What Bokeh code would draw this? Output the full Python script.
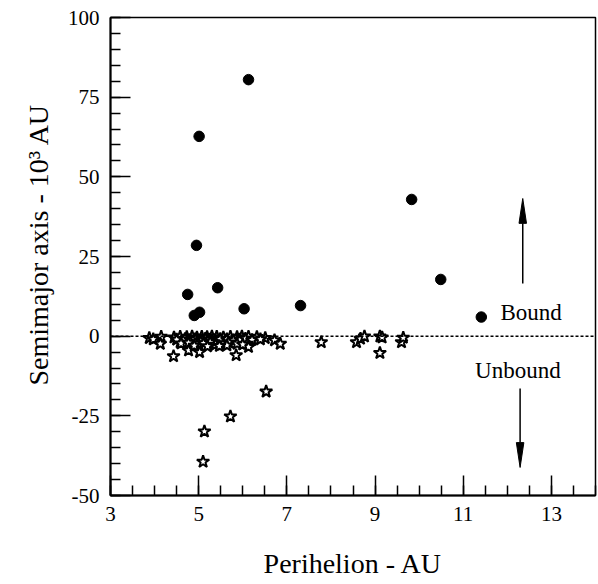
from bokeh.plotting import figure
from bokeh.models import FixedTicker, Span, Label, Title
from bokeh.embed import file_html
from bokeh.resources import INLINE

# ---- data ----
bound_q = [6.13, 5.01, 4.95, 5.43, 4.75, 6.03, 4.90, 5.02, 7.31, 9.83, 10.49, 11.41]
bound_a = [80.5, 62.7, 28.5, 15.2, 13.1, 8.6, 6.5, 7.5, 9.6, 42.9, 17.8, 6.0]

unbound_q = [6.53, 5.72, 5.13, 5.10,
             3.88, 3.97, 4.15, 4.13, 4.44, 4.43, 4.58, 4.77, 5.02, 5.85,
             4.58, 4.73, 4.85, 4.96, 5.07, 5.19, 5.30, 5.41, 5.56, 5.72, 5.87, 5.98, 6.13, 6.32, 6.51,
             4.50, 4.69, 4.81, 4.92, 5.03, 5.15, 5.26, 5.38, 5.49, 5.64, 5.79, 5.94, 6.06, 6.21, 6.40,
             4.60, 4.77, 5.00, 5.11, 5.34, 5.56, 5.68, 5.87, 6.10,
             5.26, 5.38, 5.64, 6.13, 4.90, 5.20, 5.47, 6.00,
             6.72, 6.85, 7.78, 8.58, 8.67, 8.76, 9.11, 9.16, 9.11, 9.60, 9.64]
unbound_a = [-17.4, -25.2, -29.9, -39.4,
             -0.6, -1.0, -0.2, -2.4, -0.4, -6.3, -1.9, -4.5, -5.0, -6.0,
             -0.2, -0.3, -0.1, -0.4, -0.2, -0.3, -0.1, -0.2, -0.4, -0.2, -0.3, -0.1, -0.2, -0.3, -0.6,
             -1.1, -0.9, -1.2, -1.0, -1.3, -0.8, -1.1, -1.2, -0.9, -1.0, -1.3, -1.1, -0.8, -1.2, -1.0,
             -2.3, -2.1, -2.4, -2.2, -2.5, -2.3, -2.0, -2.4, -2.4,
             -1.9, -2.7, -2.9, -3.4, -3.0, -3.2, -3.1, -2.6,
             -1.3, -2.4, -1.9, -1.9, -0.8, -0.1, -0.1, -0.4, -5.3, -1.9, -0.5]

x_major = [3, 5, 7, 9, 11, 13]
x_minor = [3 + 0.5 * i for i in range(23)]
y_major = [-50, -25, 0, 25, 50, 75, 100]
y_minor = list(range(-50, 101, 5))
y_labels = {-50: "-50", -25: "-25", 0: "0", 25: "25", 50: "50", 75: "75", 100: "100"}

x_title = "Perihelion - AU"
y_title = "Semimajor axis - 10\u00b3 AU"

# annotation arrows (data coordinates): x, start, tip
arrow_up = dict(x=12.35, y0=16.5, y1=43.2)
arrow_down = dict(x=12.29, y0=-16.4, y1=-41.2)
head_len = 7.8     # in y data units
head_half = 0.085  # in x data units
bound_label = dict(x=12.54, y=7.4, text="Bound")
unbound_label = dict(x=12.24, y=-10.8, text="Unbound")

FONT = "'Liberation Serif', 'Times New Roman', serif"

p = figure(width=598, height=584, x_range=(3, 14), y_range=(-50, 100),
           output_backend="svg", toolbar_location=None,
           min_border_left=110, min_border_right=3, min_border_top=17, min_border_bottom=89)

p.grid.visible = False
p.outline_line_color = "black"
p.outline_line_width = 1.5
p.background_fill_color = "white"
p.border_fill_color = "white"

p.xaxis.ticker = FixedTicker(ticks=x_major, minor_ticks=x_minor)
p.yaxis.ticker = FixedTicker(ticks=y_major, minor_ticks=y_minor)
p.yaxis.major_label_overrides = {k: v for k, v in y_labels.items()}

for ax in (p.xaxis[0], p.yaxis[0]):
    ax.axis_line_width = 2
    ax.axis_line_color = "black"
    ax.major_tick_in = 20
    ax.major_tick_out = 0
    ax.minor_tick_in = 10
    ax.minor_tick_out = 0
    ax.major_tick_line_width = 1.5
    ax.minor_tick_line_width = 1.5
    ax.major_tick_line_color = "black"
    ax.minor_tick_line_color = "black"
    ax.major_label_text_font = FONT
    ax.major_label_text_font_size = "21px"
    ax.major_label_text_color = "black"
    ax.axis_label_text_font = FONT
    ax.axis_label_text_font_size = "28px"
    ax.axis_label_text_font_style = "normal"
    ax.axis_label_text_color = "black"

p.xaxis.major_label_standoff = 11
p.yaxis.major_label_standoff = 11
p.xaxis.axis_label = x_title
p.xaxis.axis_label_standoff = 24

ytitle = Title(text=y_title, align="left", offset=110,
               text_font=FONT, text_font_size="28px", text_font_style="normal",
               text_color="black", standoff=21)
p.add_layout(ytitle, "left")

p.add_layout(Span(location=0, dimension="width", line_color="black",
                  line_dash="3 2", line_width=1.5))

p.scatter(unbound_q, unbound_a, marker="star", size=13, fill_color="white",
          line_color="black", line_width=2)
p.scatter(bound_q, bound_a, marker="circle", size=10.5, fill_color="black",
          line_color="black")

# arrows: shaft + narrow filled head
for a in (arrow_up, arrow_down):
    sgn = 1 if a["y1"] > a["y0"] else -1
    base = a["y1"] - sgn * head_len
    p.segment(x0=[a["x"]], y0=[a["y0"]], x1=[a["x"]], y1=[base],
              line_color="black", line_width=1.5)
    p.patch(x=[a["x"] - head_half, a["x"], a["x"] + head_half],
            y=[base, a["y1"], base], fill_color="black", line_color="black",
            line_width=1)

for lab in (bound_label, unbound_label):
    p.add_layout(Label(x=lab["x"], y=lab["y"], text=lab["text"], text_align="center",
                       text_baseline="alphabetic", text_font=FONT,
                       text_font_size="23px", text_color="black"))

open("out.html", "w").write(file_html(p, INLINE))
